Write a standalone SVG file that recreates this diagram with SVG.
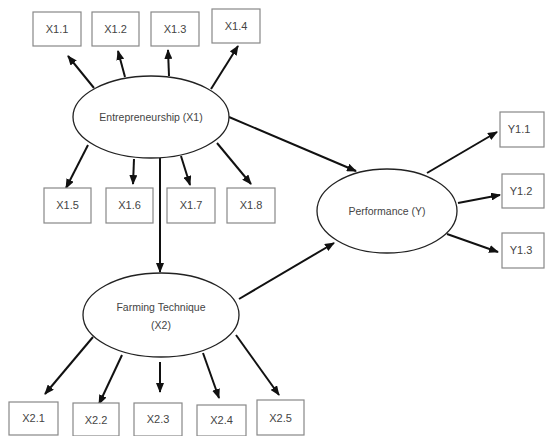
<svg xmlns="http://www.w3.org/2000/svg" width="545" height="436" viewBox="0 0 545 436">
<defs>
<marker id="ah" markerWidth="10" markerHeight="8" refX="9" refY="4" orient="auto" markerUnits="userSpaceOnUse">
<path d="M0,0 L10,4 L0,8 Z" fill="#111"/>
</marker>
<style>
.box{fill:#fff;stroke:#888;stroke-width:1.2}
.ell{fill:#fff;stroke:#222;stroke-width:1.3}
.t{font-family:"Liberation Sans",Arial,sans-serif;font-size:10.5px;fill:#444;text-anchor:middle}
.b{font-size:11px}
.c{stroke:#111;stroke-width:2;fill:none;marker-end:url(#ah)}
</style>
</defs>
<rect width="545" height="436" fill="#fff"/>
<g id="connectors">
<line class="c" x1="94" y1="88" x2="68" y2="56"/>
<line class="c" x1="125" y1="77" x2="118" y2="51"/>
<line class="c" x1="169" y1="76" x2="168" y2="50"/>
<line class="c" x1="211" y1="89" x2="238" y2="46"/>
<line class="c" x1="88" y1="145" x2="66" y2="188"/>
<line class="c" x1="134" y1="159" x2="133" y2="184"/>
<line class="c" x1="181" y1="156" x2="190" y2="185"/>
<line class="c" x1="217" y1="143" x2="251" y2="184"/>
<line class="c" x1="160" y1="158" x2="160" y2="272"/>
<line class="c" x1="229" y1="117" x2="356" y2="171"/>
<line class="c" x1="239" y1="299" x2="334" y2="243"/>
<line class="c" x1="93" y1="337" x2="45" y2="394"/>
<line class="c" x1="122" y1="355" x2="99" y2="404"/>
<line class="c" x1="160" y1="362" x2="160" y2="392"/>
<line class="c" x1="203" y1="353" x2="219" y2="398"/>
<line class="c" x1="236" y1="335" x2="279" y2="395"/>
<line class="c" x1="427" y1="173" x2="497" y2="132"/>
<line class="c" x1="458" y1="203" x2="500" y2="195"/>
<line class="c" x1="447" y1="234" x2="498" y2="252"/>
</g>
<g id="x1"><ellipse class="ell" cx="151" cy="117" rx="78" ry="41"/><text class="t" x="151" y="121">Entrepreneurship (X1)</text></g>
<g id="x2"><ellipse class="ell" cx="161" cy="315" rx="78" ry="42"/><text class="t" x="161" y="311">Farming Technique</text><text class="t" x="161" y="329">(X2)</text></g>
<g id="y"><ellipse class="ell" cx="387" cy="211" rx="70" ry="42"/><text class="t" x="387" y="215">Performance (Y)</text></g>
<g id="x11"><rect class="box" x="33" y="12" width="48" height="34"/><text class="t b" x="57" y="33">X1.1</text></g>
<g id="x12"><rect class="box" x="92" y="12" width="47" height="34"/><text class="t b" x="115.5" y="33">X1.2</text></g>
<g id="x13"><rect class="box" x="151" y="12" width="48" height="34"/><text class="t b" x="175" y="33">X1.3</text></g>
<g id="x14"><rect class="box" x="212" y="9" width="48" height="34"/><text class="t b" x="236" y="30">X1.4</text></g>
<g id="x15"><rect class="box" x="44" y="188" width="47" height="35"/><text class="t b" x="67.5" y="209">X1.5</text></g>
<g id="x16"><rect class="box" x="106" y="188" width="47" height="35"/><text class="t b" x="129.5" y="209">X1.6</text></g>
<g id="x17"><rect class="box" x="167" y="188" width="48" height="35"/><text class="t b" x="191" y="209">X1.7</text></g>
<g id="x18"><rect class="box" x="227" y="188" width="48" height="35"/><text class="t b" x="251" y="209">X1.8</text></g>
<g id="x21"><rect class="box" x="9" y="402" width="49" height="33"/><text class="t b" x="33.5" y="422">X2.1</text></g>
<g id="x22"><rect class="box" x="73" y="403" width="46" height="33"/><text class="t b" x="96" y="424">X2.2</text></g>
<g id="x23"><rect class="box" x="134" y="403" width="48" height="33"/><text class="t b" x="158" y="423">X2.3</text></g>
<g id="x24"><rect class="box" x="197" y="405" width="49" height="31"/><text class="t b" x="221.5" y="424">X2.4</text></g>
<g id="x25"><rect class="box" x="257" y="400" width="47" height="35"/><text class="t b" x="280.5" y="422">X2.5</text></g>
<g id="y11"><rect class="box" x="500" y="112" width="44" height="35"/><text class="t b" x="519" y="133">Y1.1</text></g>
<g id="y12"><rect class="box" x="502" y="174" width="42" height="34"/><text class="t b" x="521" y="195">Y1.2</text></g>
<g id="y13"><rect class="box" x="502" y="233" width="42" height="35"/><text class="t b" x="521" y="254">Y1.3</text></g>
</svg>
